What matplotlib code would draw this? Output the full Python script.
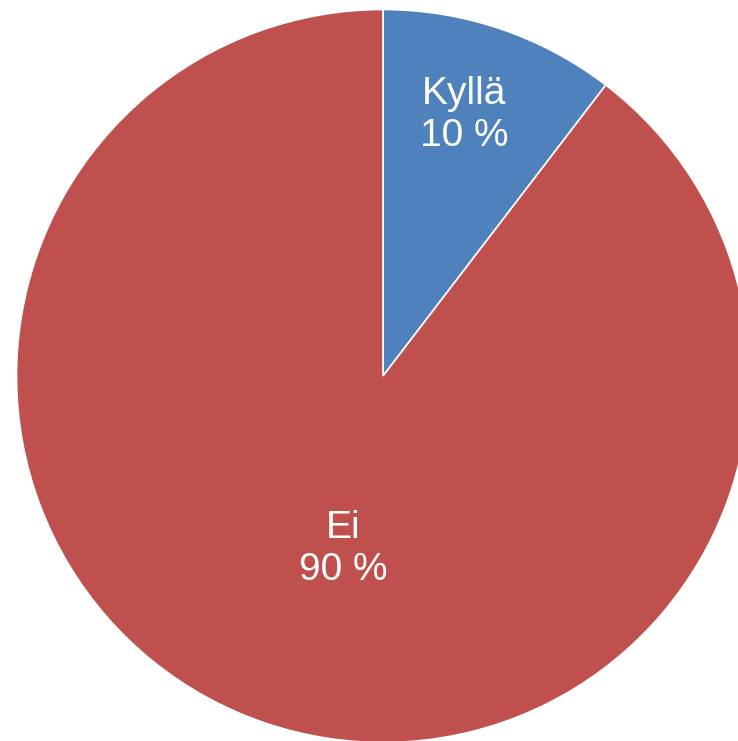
import matplotlib
matplotlib.use("Agg")
import matplotlib.pyplot as plt

labels = ["Kyllä", "Ei"]
values = [10.4, 89.6]
shown = ["10 %", "90 %"]
colors = ["#4F81BD", "#C0504D"]

W, H = 738, 741
fig = plt.figure(figsize=(W / 100, H / 100), dpi=100)
ax = fig.add_axes([0, 0, 1, 1])
ax.set_xlim(0, W)
ax.set_ylim(0, H)
ax.set_aspect("equal")
ax.axis("off")

cx, cy, r = 383, H - 376, 366.5
ax.pie(values, colors=colors, startangle=90, counterclock=False,
       center=(cx, cy), radius=r,
       wedgeprops=dict(edgecolor="white", linewidth=1.2))

label_pos = [(464, H - 115), (343, H - 549)]
for lab, s, (x, y) in zip(labels, shown, label_pos):
    ax.text(x, y, f"{lab}\n{s}", ha="center", va="center", color="white",
            fontsize=28, family="Liberation Sans", linespacing=1.2)

ax.set_xlim(0, W)
ax.set_ylim(0, H)
fig.savefig("out.png", dpi=100, facecolor="white")
